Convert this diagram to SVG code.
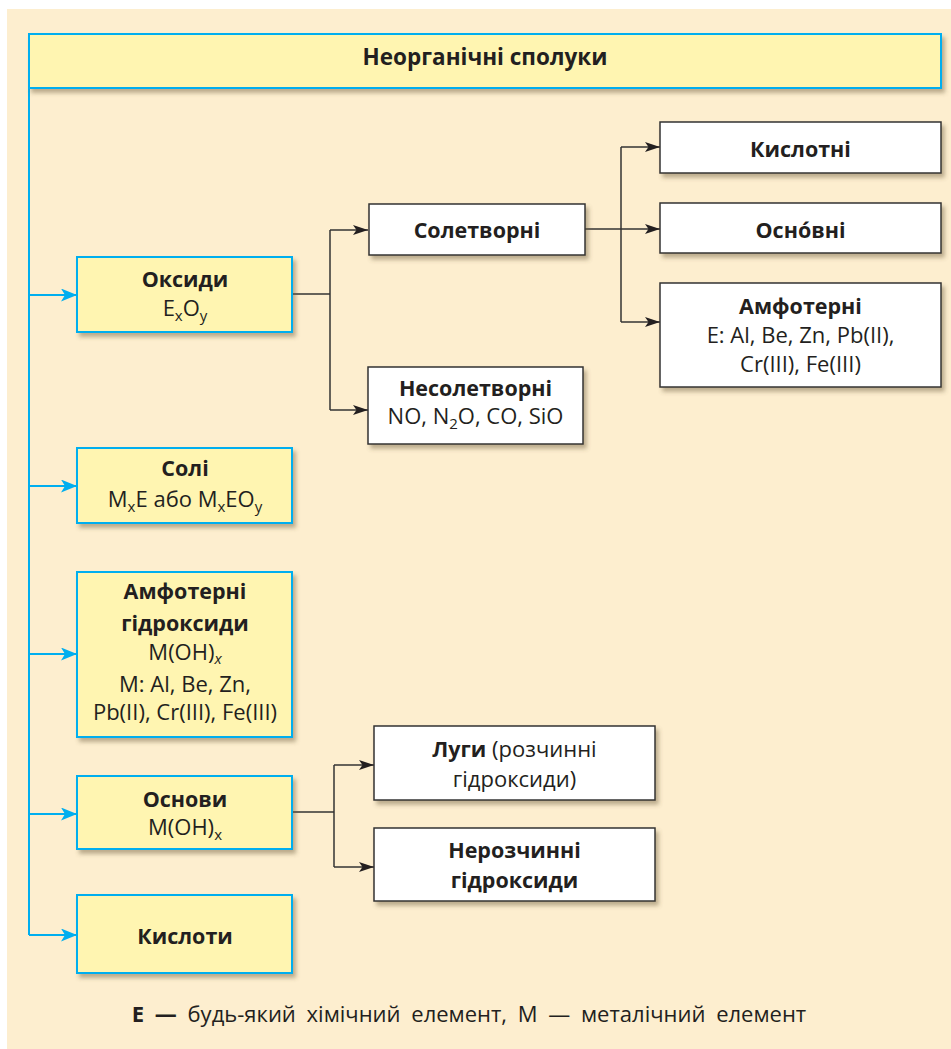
<svg xmlns="http://www.w3.org/2000/svg" width="951" height="1049" viewBox="0 0 951 1049">
<defs>
<style>
text{font-family:"Open Sans","Noto Sans",sans-serif;fill:#231f20;text-anchor:middle;font-size:22px}
.b{font-weight:700;font-size:21.5px}
.h{font-weight:700;font-size:22.5px}
.s{font-size:15px}
.yb{fill:#fff5b1;stroke:#00aeef;stroke-width:2}
.wb{fill:#ffffff;stroke:#333;stroke-width:1.5}
.bl{fill:none;stroke:#00aeef;stroke-width:2}
.dl{fill:none;stroke:#333;stroke-width:1.5}
</style>
<filter id="sh" x="-10%" y="-10%" width="130%" height="140%">
<feDropShadow dx="3" dy="4" stdDeviation="2.2" flood-color="#6b5a3e" flood-opacity="0.45"/>
</filter>
<marker id="ab" markerUnits="userSpaceOnUse" markerWidth="17" markerHeight="14" refX="16" refY="6.5" orient="auto">
<path d="M0,0 L16,6.5 L0,13 L4,6.5 Z" fill="#00aeef"/>
</marker>
<marker id="ad" markerUnits="userSpaceOnUse" markerWidth="16" markerHeight="11" refX="15" refY="5" orient="auto">
<path d="M0,0 L15,5 L0,10 L3.5,5 Z" fill="#231f20"/>
</marker>
</defs>
<rect x="7" y="9" width="944" height="1040" fill="#fdeecf"/>

<g id="connectors">
<path class="bl" d="M29,88 V935"/>
<path class="bl" d="M29,295 H77" marker-end="url(#ab)"/>
<path class="bl" d="M29,486 H77" marker-end="url(#ab)"/>
<path class="bl" d="M29,654 H77" marker-end="url(#ab)"/>
<path class="bl" d="M29,814 H77" marker-end="url(#ab)"/>
<path class="bl" d="M29,935 H77" marker-end="url(#ab)"/>
<path class="dl" d="M292,294 H330"/>
<path class="dl" d="M330,230 V410"/>
<path class="dl" d="M330,230 H368" marker-end="url(#ad)"/>
<path class="dl" d="M330,410 H368" marker-end="url(#ad)"/>
<path class="dl" d="M585,229 H621"/>
<path class="dl" d="M621,147 V322"/>
<path class="dl" d="M621,147 H660" marker-end="url(#ad)"/>
<path class="dl" d="M621,229 H660" marker-end="url(#ad)"/>
<path class="dl" d="M621,322 H660" marker-end="url(#ad)"/>
<path class="dl" d="M292,812 H334"/>
<path class="dl" d="M334,765 V867"/>
<path class="dl" d="M334,765 H374" marker-end="url(#ad)"/>
<path class="dl" d="M334,867 H374" marker-end="url(#ad)"/>
</g>

<g id="root">
<rect class="yb" x="29" y="34" width="912" height="54" stroke-width="2.5" filter="url(#sh)"/>
<text class="h" x="485" y="65">Неорганічні сполуки</text>
</g>

<g id="oxides">
<rect class="yb" x="77" y="257" width="215" height="75" filter="url(#sh)"/>
<text class="b" x="185" y="287">Оксиди</text>
<text x="185" y="316">E<tspan class="s" dy="5">x</tspan><tspan dy="-5">O</tspan><tspan class="s" dy="5">y</tspan></text>
</g>

<g id="salts">
<rect class="yb" x="77" y="448" width="215" height="75" filter="url(#sh)"/>
<text class="b" x="185" y="476">Солі</text>
<text x="185" y="507">M<tspan class="s" dy="5">x</tspan><tspan dy="-5">E або M</tspan><tspan class="s" dy="5">x</tspan><tspan dy="-5">EO</tspan><tspan class="s" dy="5">y</tspan></text>
</g>

<g id="amph-hydroxides">
<rect class="yb" x="77" y="572" width="215" height="165" filter="url(#sh)"/>
<text class="b" x="185" y="599">Амфотерні</text>
<text class="b" x="185" y="631">гідроксиди</text>
<text x="185" y="660">M(OH)<tspan class="s" dy="4" font-style="italic">x</tspan></text>
<text x="185" y="692">M: Al, Be, Zn,</text>
<text x="185" y="720">Pb(II), Cr(III), Fe(III)</text>
</g>

<g id="bases">
<rect class="yb" x="77" y="776" width="215" height="73" filter="url(#sh)"/>
<text class="b" x="185" y="807">Основи</text>
<text x="185" y="835">M(OH)<tspan class="s" dy="5">x</tspan></text>
</g>

<g id="acids">
<rect class="yb" x="77" y="895" width="215" height="78" filter="url(#sh)"/>
<text class="b" x="185" y="944">Кислоти</text>
</g>

<g id="salt-forming">
<rect class="wb" x="369" y="204" width="216" height="51" filter="url(#sh)"/>
<text class="b" x="477" y="238">Солетворні</text>
</g>

<g id="non-salt-forming">
<rect class="wb" x="368" y="367" width="215" height="77" filter="url(#sh)"/>
<text class="b" x="475.5" y="396">Несолетворні</text>
<text x="475.5" y="424">NO, N<tspan class="s" dy="5">2</tspan><tspan dy="-5">O, CO, SiO</tspan></text>
</g>

<g id="acidic">
<rect class="wb" x="660" y="122" width="281" height="51" filter="url(#sh)"/>
<text class="b" x="800.5" y="157">Кислотні</text>
</g>

<g id="basic">
<rect class="wb" x="660" y="203" width="281" height="50" filter="url(#sh)"/>
<text class="b" x="800.5" y="238">Осно́вні</text>
</g>

<g id="amphoteric">
<rect class="wb" x="660" y="283" width="281" height="104" filter="url(#sh)"/>
<text class="b" x="800.5" y="314">Амфотерні</text>
<text x="800.5" y="343">E: Al, Be, Zn, Pb(II),</text>
<text x="800.5" y="372">Cr(III), Fe(III)</text>
</g>

<g id="alkalis">
<rect class="wb" x="374" y="726" width="281" height="74" filter="url(#sh)"/>
<text x="514.5" y="757"><tspan font-weight="700" font-size="21.5">Луги</tspan> (розчинні</text>
<text x="514.5" y="787">гідроксиди)</text>
</g>

<g id="insoluble">
<rect class="wb" x="374" y="828" width="281" height="73" filter="url(#sh)"/>
<text class="b" x="514.5" y="858">Нерозчинні</text>
<text class="b" x="514.5" y="888">гідроксиди</text>
</g>

<g id="footnote">
<text x="469" y="1022" font-size="20" word-spacing="5"><tspan font-weight="700">E —</tspan> будь-який хімічний елемент, M — металічний елемент</text>
</g>
</svg>
